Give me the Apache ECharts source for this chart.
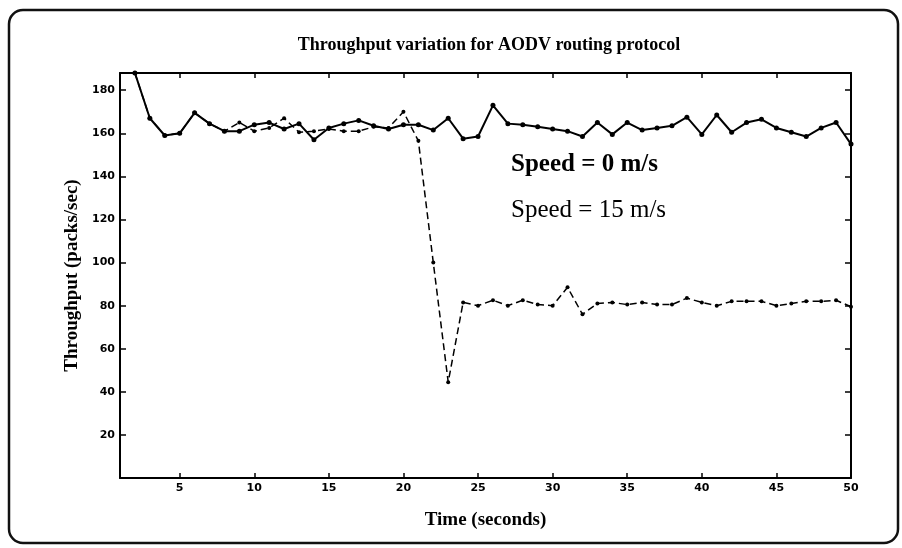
<!DOCTYPE html>
<html>
<head>
<meta charset="utf-8">
<script src="https://cdn.jsdelivr.net/npm/echarts@6/dist/echarts.min.js"></script>
<style>
html,body{margin:0;padding:0;background:#fff;}
#chart{width:902px;height:548px;}
</style>
</head>
<body>
<div id="chart"></div>
<script>
// ---- data ----
const time = [2,3,4,5,6,7,8,9,10,11,12,13,14,15,16,17,18,19,20,21,22,23,24,25,26,27,28,29,30,31,32,33,34,35,36,37,38,39,40,41,42,43,44,45,46,47,48,49,50];
const speed0 = [188,167,159,160,169.5,164.5,161,161,164,165,162,164.5,157,162.5,164.5,166,163.5,162,164,164,161.5,167,157.5,158.5,173,164.5,164,163,162,161,158.5,165,159.5,165,161.5,162.5,163.5,167.5,159.5,168.5,160.5,165,166.5,162.5,160.5,158.5,162.5,165,155];
const speed15 = [188,167,159,160,169.5,164.5,161,165,161,162.5,167,160.5,161,162,161,161,163,162.5,170,156.5,100,44.5,81.5,80,82.5,80,82.5,80.5,80,88.5,76,81,81.5,80.5,81.5,80.5,80.5,83.5,81.5,80,82,82,82,80,81,82,82,82.5,79.5];
const xTicks = [5,10,15,20,25,30,35,40,45,50];
const yTicks = [20,40,60,80,100,120,140,160,180];
const titleText = 'Throughput variation for AODV routing protocol';
const xName = 'Time (seconds)';
const yName = 'Throughput (packs/sec)';
const label0 = 'Speed = 0 m/s';
const label15 = 'Speed = 15 m/s';

const pair = (xs, ys) => xs.map((x, i) => [x, ys[i]]);

const chart = echarts.init(document.getElementById('chart'), null, {renderer: 'canvas'});
const serif = '"Liberation Serif", "DejaVu Serif", serif';
const tickFont = {fontFamily: '"DejaVu Sans", sans-serif', fontWeight: 'bold', fontSize: 11, color: '#000'};
const axisLine = {show: true, onZero: false, lineStyle: {color: '#000', width: 2}};

const option = {
  animation: false,
  backgroundColor: '#fff',
  grid: {left: 120, right: 51, top: 73, bottom: 70, show: false},
  xAxis: [{
    type: 'value', min: 1, max: 50, position: 'bottom',
    name: xName, nameLocation: 'middle', nameGap: 33,
    nameTextStyle: {fontFamily: serif, fontWeight: 'bold', fontSize: 19, color: '#000'},
    axisLine: axisLine,
    axisTick: {show: true, inside: true, length: 5, customValues: xTicks, lineStyle: {color: '#000', width: 1.5}},
    axisLabel: Object.assign({show: true, margin: 5, customValues: xTicks}, tickFont),
    splitLine: {show: false}
  }, {
    type: 'value', min: 1, max: 50, position: 'top',
    axisLine: axisLine,
    axisTick: {show: true, inside: true, length: 5, customValues: xTicks, lineStyle: {color: '#000', width: 1.5}},
    axisLabel: {show: false},
    splitLine: {show: false}
  }],
  yAxis: [{
    type: 'value', min: 0, max: 188, position: 'left',
    name: yName, nameLocation: 'middle', nameGap: 38, nameRotate: 90,
    nameTextStyle: {fontFamily: serif, fontWeight: 'bold', fontSize: 19, color: '#000'},
    axisLine: axisLine,
    axisTick: {show: true, inside: true, length: 6, customValues: yTicks, lineStyle: {color: '#000', width: 1.5}},
    axisLabel: Object.assign({show: true, margin: 5, customValues: yTicks}, tickFont),
    splitLine: {show: false}
  }, {
    type: 'value', min: 0, max: 188, position: 'right',
    axisLine: axisLine,
    axisTick: {show: true, inside: true, length: 6, customValues: yTicks, lineStyle: {color: '#000', width: 1.5}},
    axisLabel: {show: false},
    splitLine: {show: false}
  }],
  series: [{
    name: label15, type: 'line', data: pair(time, speed15),
    symbol: 'circle', symbolSize: 4,
    itemStyle: {color: '#000'},
    lineStyle: {color: '#000', width: 1.5, type: [7, 4]},
    z: 2
  }, {
    name: label0, type: 'line', data: pair(time, speed0),
    symbol: 'circle', symbolSize: 5,
    itemStyle: {color: '#000'},
    lineStyle: {color: '#000', width: 2},
    z: 3
  }],
  graphic: [{
    type: 'rect', z: 100, silent: true,
    shape: {x: 9, y: 10, width: 889, height: 533, r: 14},
    style: {fill: 'none', stroke: '#111', lineWidth: 2.5}
  }, {
    type: 'text', x: 489, y: 45,
    style: {text: titleText, font: 'bold 18px ' + serif, fill: '#000', align: 'center', verticalAlign: 'middle'}
  }, {
    type: 'text', left: 511, top: 152,
    style: {text: label0, font: 'bold 25px ' + serif, fill: '#000'}
  }, {
    type: 'text', left: 511, top: 198,
    style: {text: label15, font: '25px ' + serif, fill: '#000'}
  }]
};
chart.setOption(option);
</script>
</body>
</html>
